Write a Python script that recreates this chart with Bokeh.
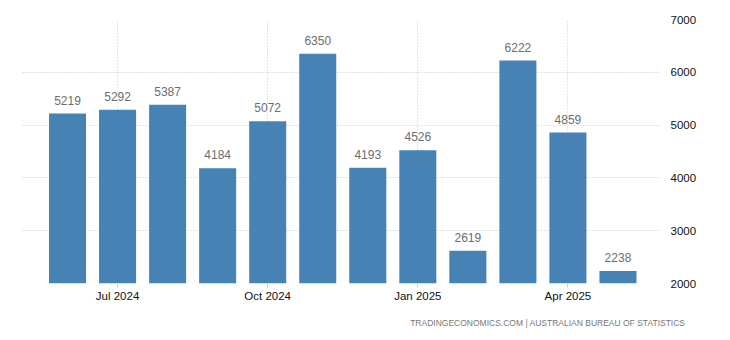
from bokeh.plotting import figure
from bokeh.models import ColumnDataSource, Range1d, FixedTicker, LinearAxis, Title
from bokeh.embed import file_html
from bokeh.resources import INLINE
from bokeh.core.properties import value

months = ["Jun 2024", "Jul 2024", "Aug 2024", "Sep 2024", "Oct 2024", "Nov 2024",
          "Dec 2024", "Jan 2025", "Feb 2025", "Mar 2025", "Apr 2025", "May 2025"]
values = [5219, 5292, 5387, 4184, 5072, 6350, 4193, 4526, 2619, 6222, 4859, 2238]
tick_positions = [1, 4, 7, 10]
tick_labels = ["Jul 2024", "Oct 2024", "Jan 2025", "Apr 2025"]
y_ticks = [2000, 3000, 4000, 5000, 6000, 7000]

x = list(range(len(months)))
src = ColumnDataSource(dict(x=x, v=values, lab=[str(v) for v in values], month=months))

FONT = "Liberation Sans"

p = figure(width=730, height=340, output_backend="svg", toolbar_location=None,
           x_range=Range1d(-0.9, 11.87), y_range=Range1d(2000, 7000),
           y_axis_location=None, min_border_left=22, min_border_right=69,
           min_border_top=19, min_border_bottom=57)
p.outline_line_color = None
p.background_fill_color = "white"
p.border_fill_color = "white"

p.vbar(x="x", top="v", bottom=2000, width=0.74, source=src,
       fill_color="#4682B4", line_color=None)

p.text(x="x", y="v", text="lab", source=src, y_offset=-9,
       text_align="center", text_baseline="bottom",
       text_font=value(FONT), text_font_size="12px", text_color="#6d6d6d")

# x axis
xa = p.xaxis[0]
xa.ticker = FixedTicker(ticks=tick_positions)
xa.major_label_overrides = {t: l for t, l in zip(tick_positions, tick_labels)}
xa.axis_line_color = None
xa.major_tick_in = 0
xa.major_tick_out = 4
xa.major_tick_line_color = "#cccccc"
xa.minor_tick_line_color = None
xa.major_label_text_font = FONT
xa.major_label_text_font_size = "11.5px"
xa.major_label_text_color = "#111111"
xa.major_label_standoff = 2

# y axis right
ya = LinearAxis(ticker=FixedTicker(ticks=y_ticks))
ya.axis_line_color = None
ya.major_tick_line_color = None
ya.minor_tick_line_color = None
ya.major_label_text_font = FONT
ya.major_label_text_font_size = "11.5px"
ya.major_label_text_color = "#111111"
ya.major_label_standoff = 3
p.add_layout(ya, "right")

p.xgrid.ticker = FixedTicker(ticks=tick_positions)
p.ygrid.ticker = FixedTicker(ticks=y_ticks)
for g in (p.xgrid[0], p.ygrid[0]):
    g.grid_line_color = "#c8c8c8"
    g.grid_line_dash = "1 2"
    g.grid_line_width = 1

footer = Title(text="TRADINGECONOMICS.COM | AUSTRALIAN BUREAU OF STATISTICS",
               align="right", offset=-24, standoff=23,
               text_font=FONT, text_font_size="8.5px", text_font_style="normal",
               text_color="#777777")
p.add_layout(footer, "below")

open("out.html", "w").write(file_html(p, INLINE))
